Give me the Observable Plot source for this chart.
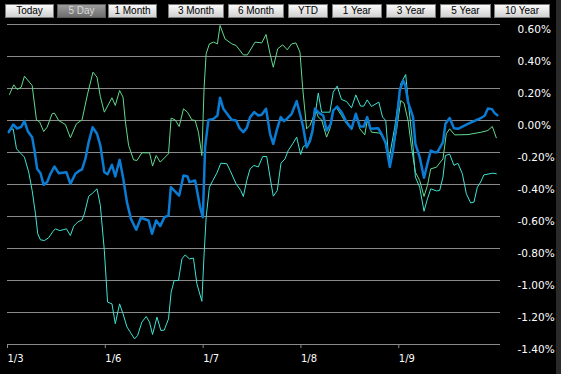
<!DOCTYPE html>
<html>
<head>
<meta charset="utf-8">
<script src="https://cdn.jsdelivr.net/npm/d3@7"></script>
<script src="https://cdn.jsdelivr.net/npm/@observablehq/plot@0.6"></script>
<style>
  html, body { margin: 0; padding: 0; background: #000; }
  #wrap { position: relative; width: 561px; height: 374px; overflow: hidden; background: #000; }
  #chart { position: absolute; left: 0; top: 0; }
  .btn { position: absolute; top: 4px; height: 12px; border: 1px solid #7a7a7a;
         background: linear-gradient(#fbfbfb, #d0d0d0); color: #000;
         font: 10px "Liberation Sans", Arial, sans-serif; line-height: 12px; text-align: center; box-sizing: content-box; }
  .btn.sel { background: linear-gradient(#9c9c9c, #6e6e6e); color: #d8d8d8; border-color: #5a5a5a; }
  #strip { position: absolute; left: 556px; top: 0; width: 5px; height: 374px; background: #2a2a2a; }
</style>
</head>
<body>
<div id="wrap"><div id="chart"></div><div id="strip"></div></div>
<script>
// ---- data (x = trading-day index from 1/3, y = % change) ----
const dayTicks = [0, 1, 2, 3, 4];
const dayLabels = ["1/3", "1/6", "1/7", "1/8", "1/9"];
const pctTicks = [0.6, 0.4, 0.2, 0, -0.2, -0.4, -0.6, -0.8, -1.0, -1.2, -1.4];
const buttonLabels = ["Today", "5 Day", "1 Month", "3 Month", "6 Month", "YTD", "1 Year", "3 Year", "5 Year", "10 Year"];
const selectedButton = "5 Day";

const blueSeries = [
  [0.013,-0.073],[0.058,-0.025],[0.099,-0.05],[0.140,-0.04],[0.173,-0.004],[0.207,-0.067],[0.252,-0.104],[0.276,-0.1875],
  [0.303,-0.302],[0.337,-0.329],[0.370,-0.402],[0.405,-0.385],[0.439,-0.333],[0.480,-0.2875],[0.523,-0.329],[0.602,-0.323],
  [0.643,-0.396],[0.694,-0.333],[0.728,-0.317],[0.762,-0.306],[0.796,-0.24],[0.830,-0.135],[0.870,-0.042],[0.915,-0.083],
  [0.949,-0.156],[0.990,-0.323],[1.023,-0.336],[1.068,-0.277],[1.102,-0.35],[1.146,-0.246],[1.181,-0.354],[1.221,-0.51],
  [1.262,-0.615],[1.316,-0.683],[1.364,-0.608],[1.442,-0.625],[1.477,-0.708],[1.520,-0.625],[1.561,-0.66],[1.605,-0.604],
  [1.646,-0.594],[1.670,-0.417],[1.755,-0.469],[1.799,-0.344],[1.840,-0.35],[1.860,-0.385],[1.918,-0.375],[1.969,-0.542],
  [1.997,-0.604],[2.020,-0.167],[2.054,0.004],[2.105,0.01],[2.146,0.031],[2.173,0.142],[2.207,0.073],[2.258,0.031],
  [2.293,0.004],[2.337,0.0],[2.370,-0.046],[2.411,-0.073],[2.446,-0.046],[2.480,0.021],[2.523,0.052],[2.564,0.031],
  [2.599,0.036],[2.643,0.073],[2.684,-0.083],[2.717,-0.146],[2.752,-0.062],[2.793,0.021],[2.827,-0.004],[2.860,0.013],
  [2.905,0.042],[2.956,0.121],[2.990,0.042],[3.023,-0.042],[3.058,-0.167],[3.092,-0.129],[3.119,-0.0625],[3.143,0.073],
  [3.187,0.046],[3.228,0.031],[3.262,-0.0625],[3.303,-0.025],[3.330,0.0625],[3.370,0.0875],[3.415,0.052],[3.466,-0.01],
  [3.517,-0.052],[3.561,0.042],[3.602,-0.0375],[3.643,-0.0375],[3.677,0.021],[3.711,-0.052],[3.789,-0.048],[3.823,-0.083],
  [3.867,-0.142],[3.908,-0.29],[3.942,-0.185],[3.977,-0.02],[4.010,0.1875],[4.044,0.25],[4.068,0.219],[4.095,0.115],
  [4.146,0.021],[4.170,-0.146],[4.214,-0.229],[4.258,-0.358],[4.293,-0.27],[4.327,-0.1875],[4.360,-0.198],[4.395,-0.198],
  [4.452,-0.135],[4.477,-0.021],[4.520,0.015],[4.564,-0.048],[4.605,-0.052],[4.707,-0.021],[4.844,0.017],[4.878,0.03],
  [4.911,0.075],[4.952,0.071],[4.980,0.046],[5.007,0.033]
];

const greenSeries = [
  [0.020,0.1625],[0.064,0.223],[0.099,0.194],[0.140,0.208],[0.173,0.277],[0.252,0.219],[0.296,0.004],[0.330,-0.01],
  [0.370,-0.069],[0.405,-0.042],[0.456,0.042],[0.480,0.046],[0.523,0.0],[0.592,-0.025],[0.643,-0.108],[0.704,-0.021],
  [0.762,0.004],[0.819,0.167],[0.874,0.302],[0.915,0.271],[0.949,0.15],[0.990,0.052],[1.068,0.142],[1.102,0.094],
  [1.146,0.1875],[1.181,0.146],[1.204,0.0],[1.238,-0.156],[1.289,-0.246],[1.323,-0.25],[1.374,-0.202],[1.452,-0.202],
  [1.483,-0.285],[1.520,-0.219],[1.561,-0.26],[1.646,-0.208],[1.673,0.015],[1.714,0.004],[1.755,-0.0375],[1.799,0.073],
  [1.840,0.052],[1.885,0.004],[1.918,0.0],[1.952,-0.073],[1.987,-0.219],[2.010,0.208],[2.031,0.417],[2.064,0.479],
  [2.105,0.49],[2.146,0.479],[2.173,0.594],[2.224,0.51],[2.293,0.479],[2.337,0.469],[2.411,0.41],[2.452,0.41],
  [2.531,0.49],[2.599,0.485],[2.643,0.5375],[2.684,0.417],[2.717,0.333],[2.762,0.448],[2.813,0.473],[2.860,0.442],
  [2.905,0.479],[2.949,0.485],[2.990,0.427],[3.017,0.208],[3.058,-0.052],[3.092,-0.031],[3.126,0.021],[3.143,0.079],
  [3.177,0.021],[3.211,0.004],[3.262,-0.104],[3.296,-0.052],[3.330,0.0625],[3.364,0.079],[3.415,0.031],[3.466,-0.021],
  [3.517,-0.052],[3.561,0.035],[3.602,-0.052],[3.653,-0.09],[3.677,0.0],[3.721,-0.073],[3.806,-0.079],[3.857,-0.125],
  [3.891,-0.229],[3.915,-0.27],[3.977,-0.062],[4.020,0.125],[4.054,0.108],[4.095,0.0],[4.130,-0.167],[4.170,-0.323],
  [4.214,-0.375],[4.258,-0.475],[4.293,-0.406],[4.327,-0.302],[4.385,-0.292],[4.452,-0.24],[4.486,-0.083],[4.520,-0.052],
  [4.571,-0.09],[4.707,-0.088],[4.844,-0.073],[4.911,-0.0625],[4.956,-0.0375],[4.997,-0.108]
];

const cyanSeries = [
  [0.013,-0.0625],[0.058,-0.052],[0.092,-0.177],[0.133,-0.204],[0.173,-0.229],[0.217,-0.323],[0.252,-0.4375],[0.286,-0.583],
  [0.309,-0.708],[0.337,-0.746],[0.378,-0.75],[0.421,-0.733],[0.466,-0.692],[0.490,-0.677],[0.534,-0.688],[0.568,-0.683],
  [0.602,-0.677],[0.643,-0.719],[0.677,-0.66],[0.717,-0.635],[0.762,-0.621],[0.786,-0.583],[0.830,-0.473],[0.870,-0.454],
  [0.915,-0.427],[0.949,-0.53],[0.990,-0.8125],[1.023,-1.135],[1.068,-1.146],[1.102,-1.27],[1.146,-1.146],[1.181,-1.208],
  [1.221,-1.29],[1.255,-1.323],[1.299,-1.365],[1.330,-1.344],[1.374,-1.26],[1.418,-1.225],[1.452,-1.26],[1.483,-1.3375],
  [1.528,-1.229],[1.568,-1.3125],[1.602,-1.31],[1.646,-1.24],[1.673,-1.073],[1.704,-1.0],[1.748,-1.0],[1.783,-0.865],
  [1.816,-0.84],[1.860,-0.865],[1.901,-0.86],[1.936,-1.02],[1.987,-1.13],[2.010,-0.833],[2.031,-0.604],[2.064,-0.417],
  [2.099,-0.375],[2.140,-0.329],[2.181,-0.267],[2.242,-0.27],[2.276,-0.3125],[2.337,-0.396],[2.385,-0.4375],[2.411,-0.475],
  [2.446,-0.375],[2.480,-0.302],[2.520,-0.281],[2.564,-0.29],[2.609,-0.225],[2.650,-0.225],[2.684,-0.354],[2.717,-0.473],
  [2.758,-0.438],[2.796,-0.267],[2.837,-0.24],[2.870,-0.1875],[2.915,-0.146],[2.956,-0.104],[2.997,-0.2125],[3.023,-0.1625],
  [3.074,-0.146],[3.126,-0.042],[3.177,0.171],[3.211,0.052],[3.296,0.052],[3.330,0.177],[3.370,0.215],[3.415,0.131],
  [3.466,0.119],[3.517,0.079],[3.561,0.16],[3.609,0.09],[3.643,0.09],[3.677,0.129],[3.721,0.088],[3.796,0.115],
  [3.834,0.021],[3.867,0.0],[3.898,-0.25],[3.959,-0.042],[4.020,0.229],[4.071,0.2875],[4.099,0.104],[4.146,-0.167],
  [4.170,-0.354],[4.214,-0.417],[4.258,-0.567],[4.293,-0.49],[4.327,-0.427],[4.385,-0.44],[4.418,-0.4375],[4.452,-0.354],
  [4.477,-0.219],[4.520,-0.21],[4.564,-0.28],[4.605,-0.268],[4.650,-0.333],[4.691,-0.458],[4.735,-0.515],[4.769,-0.51],
  [4.803,-0.417],[4.837,-0.385],[4.870,-0.34],[4.962,-0.329],[4.997,-0.333]
];

// ---- buttons (HTML above the chart) ----
const buttonBoxes = [[5,49],[57,49],[108,49],[168,56],[228,56],[288,40],[332,50],[386,50],[440,51],[494,56]];
const wrap = document.getElementById("wrap");
buttonLabels.forEach((label, i) => {
  const b = document.createElement("div");
  b.className = "btn" + (label === selectedButton ? " sel" : "");
  b.style.left = buttonBoxes[i][0] + "px";
  b.style.width = (buttonBoxes[i][1] - 2) + "px";
  b.textContent = label;
  wrap.appendChild(b);
});

const toRows = (arr) => arr.map(([t, v]) => ({t, v}));

const chart = Plot.plot({
  width: 561,
  height: 374,
  marginTop: 24,
  marginBottom: 30,
  marginLeft: 7,
  marginRight: 61,
  style: {background: "#000", color: "#fff", fontFamily: "'DejaVu Sans', Verdana, sans-serif", overflow: "visible"},
  x: {domain: [0, 5.04]},
  y: {domain: [-1.4, 0.6]},
  marks: [
    Plot.gridY(pctTicks, {stroke: "#8a8a8a", strokeOpacity: 1, strokeWidth: 1}),
    Plot.axisY(pctTicks, {anchor: "right", tickSize: 0, tickPadding: 17, dy: 5, fill: "#fff", fontSize: 10.5,
      tickFormat: (d) => d.toFixed(2) + "%", label: null}),
    Plot.axisX(dayTicks, {anchor: "bottom", tickSize: 4, tickPadding: 6, stroke: "#8a8a8a", fill: "#fff", fontSize: 10,
      textAnchor: "start", tickFormat: (d, i) => dayLabels[i], label: null}),
    Plot.line(toRows(greenSeries), {x: "t", y: "v", stroke: "#62d98e", strokeWidth: 1}),
    Plot.line(toRows(cyanSeries), {x: "t", y: "v", stroke: "#3fe3d2", strokeWidth: 1}),
    Plot.line(toRows(blueSeries), {x: "t", y: "v", stroke: "#0a7cd4", strokeWidth: 2.5})
  ]
});
document.getElementById("chart").appendChild(chart);
</script>
</body>
</html>
